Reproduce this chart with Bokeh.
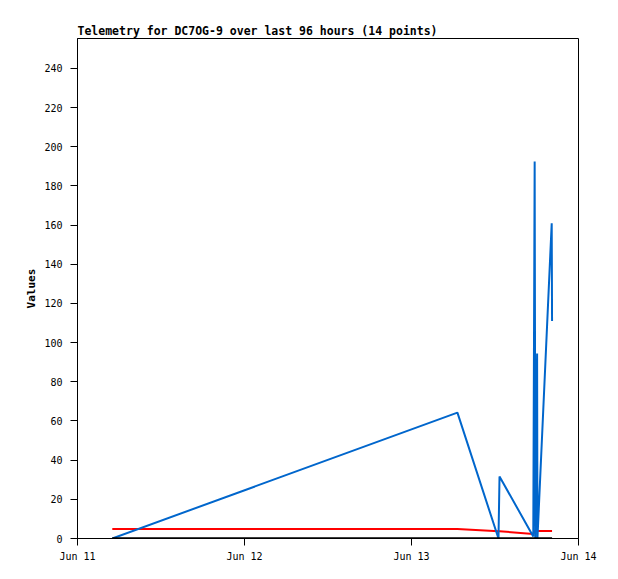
import pandas as pd
from bokeh.plotting import figure
from bokeh.models import Range1d, FixedTicker, DatetimeTickFormatter
from bokeh.embed import file_html
from bokeh.resources import INLINE

# ---- data ----
times = [
    "2024-06-11 05:00", "2024-06-13 06:36", "2024-06-13 12:30", "2024-06-13 12:39",
    "2024-06-13 17:30", "2024-06-13 17:42", "2024-06-13 17:48", "2024-06-13 18:03",
    "2024-06-13 18:06", "2024-06-13 20:09", "2024-06-13 20:12",
]
blue_values = [0, 64.3, 0, 31.7, 1, 192.5, 0, 94.5, 0, 161, 111]
red_values = [4.8, 4.8, 3.7, 3.7, 2.3, 3.8, 3.8, 3.8, 3.8, 3.8, 3.8]
black_values = [0, 0, 0, 0, 0, 0, 0, 0, 0, 0, 0]

tick_dates = ["2024-06-11", "2024-06-12", "2024-06-13", "2024-06-14"]
y_ticks = [0, 20, 40, 60, 80, 100, 120, 140, 160, 180, 200, 220, 240]
title_text = "Telemetry for DC7OG-9 over last 96 hours (14 points)"

x = pd.to_datetime(times)
tick_ms = [pd.Timestamp(d).value / 1e6 for d in tick_dates]

MONO = "DejaVu Sans Mono"

p = figure(
    width=610, height=571, x_axis_type="datetime",
    output_backend="svg", toolbar_location=None,
    x_range=Range1d(pd.Timestamp(tick_dates[0]), pd.Timestamp(tick_dates[-1])),
    y_range=Range1d(0, 255.3),
    min_border_left=77, min_border_right=32, min_border_top=38, min_border_bottom=33,
)
p.title.text = title_text
p.title.text_font = MONO
p.title.text_font_size = "11.5px"
p.title.text_font_style = "bold"
p.title.text_color = "black"
p.title.align = "left"
p.title.offset = 0
p.title.standoff = 2

p.outline_line_color = "black"
p.outline_line_width = 1
p.xgrid.visible = False
p.ygrid.visible = False
p.background_fill_color = "white"

for ax in (p.xaxis[0], p.yaxis[0]):
    ax.major_tick_out = 7
    ax.major_tick_in = 0
    ax.minor_tick_out = 0
    ax.minor_tick_in = 0
    ax.axis_line_color = "black"
    ax.major_tick_line_color = "black"
    ax.major_label_text_font = MONO
    ax.major_label_text_font_size = "10px"
    ax.major_label_text_color = "black"

p.xaxis.ticker = FixedTicker(ticks=tick_ms)
p.xaxis.formatter = DatetimeTickFormatter(days="%b %d", hours="%b %d", months="%b %d")
p.xaxis.major_label_standoff = 5

p.yaxis.ticker = FixedTicker(ticks=y_ticks)
p.yaxis.major_label_standoff = 8
p.yaxis.axis_label = "Values"
p.yaxis.axis_label_text_font = MONO
p.yaxis.axis_label_text_font_size = "11px"
p.yaxis.axis_label_text_font_style = "bold"
p.yaxis.axis_label_text_color = "black"
p.yaxis.axis_label_standoff = 3

p.line(x, red_values, line_width=2, line_color="#FF0000")
p.line(x, blue_values, line_width=2, line_color="#0066CC")
p.line(x, black_values, line_width=2.5, line_color="black")

open("out.html", "w").write(file_html(p, INLINE))
